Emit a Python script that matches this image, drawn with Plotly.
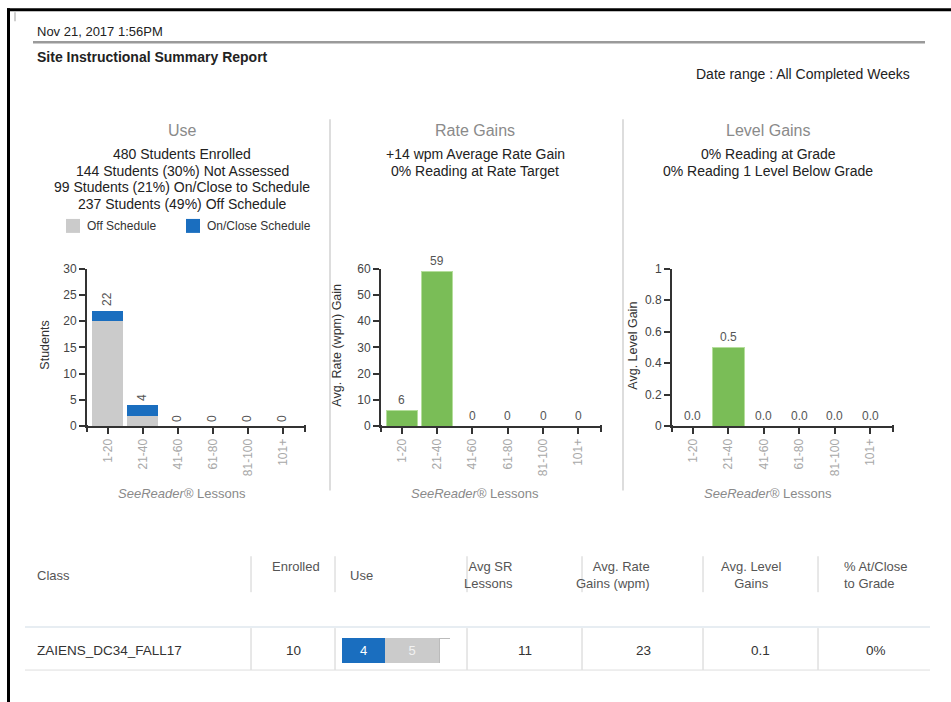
import plotly.graph_objects as go

W, H = 951, 702

# ---- data -------------------------------------------------------------
lesson_bins = ["1-20", "21-40", "41-60", "61-80", "81-100", "101+"]
off_schedule = [20, 2, 0, 0, 0, 0]
on_schedule = [2, 2, 0, 0, 0, 0]
rate_gain = [6, 59, 0, 0, 0, 0]
level_gain = [0.0, 0.5, 0.0, 0.0, 0.0, 0.0]

use_summary = [
    "480 Students Enrolled",
    "144 Students (30%) Not Assessed",
    "99 Students (21%) On/Close to Schedule",
    "237 Students (49%) Off Schedule",
]
rate_summary = ["+14 wpm Average Rate Gain", "0% Reading at Rate Target"]
level_summary = ["0% Reading at Grade", "0% Reading 1 Level Below Grade"]

table_headers = ["Class", "Enrolled", "Use", "Avg SR<br>Lessons",
                 "Avg. Rate<br>Gains (wpm)", "Avg. Level<br>Gains", "% At/Close<br>to Grade"]
class_names = ["ZAIENS_DC34_FALL17"]
class_enrolled = [10]
class_on_schedule = [4]
class_off_schedule = [5]
class_avg_sr = [11]
class_avg_rate = [23]
class_avg_level = [0.1]
class_pct_grade = ["0%"]

# ---- style ------------------------------------------------------------
FONT = "Liberation Sans, Arial, sans-serif"
GRAY_BAR = "#cbcbcb"
BLUE = "#1a6ebf"
GREEN = "#7abd57"
AXIS = "#333333"
TITLE_GRAY = "#8a8a8a"
TEXT = "#222222"


def px(x):
    return x / W


def py(y):
    # page layout is specified in pixels from the top; squeeze it slightly around the charts
    y = (y - 5.65) / 0.982
    return 1 - y / H


fig = go.Figure()

# Use chart: stacked off/on schedule
fig.add_trace(go.Bar(x=lesson_bins, y=off_schedule, name="Off Schedule",
                     marker=dict(color=GRAY_BAR, line=dict(width=0)),
                     xaxis="x", yaxis="y", showlegend=False, hoverinfo="skip"))
fig.add_trace(go.Bar(x=lesson_bins, y=on_schedule, name="On/Close Schedule",
                     marker=dict(color=BLUE, line=dict(width=0)),
                     xaxis="x", yaxis="y", showlegend=False, hoverinfo="skip"))
# Rate gains
fig.add_trace(go.Bar(x=lesson_bins, y=rate_gain, name="Rate Gain",
                     marker=dict(color=GREEN, line=dict(color="#b5de9c", width=1)),
                     xaxis="x2", yaxis="y2", showlegend=False, hoverinfo="skip"))
# Level gains
fig.add_trace(go.Bar(x=lesson_bins, y=level_gain, name="Level Gain",
                     marker=dict(color=GREEN, line=dict(color="#b5de9c", width=1)),
                     xaxis="x3", yaxis="y3", showlegend=False, hoverinfo="skip"))

# Table "Use" cell: horizontal stacked bar (on / off / not assessed)
not_assessed = [e - a - b for e, a, b in zip(class_enrolled, class_on_schedule, class_off_schedule)]
fig.add_trace(go.Bar(x=class_on_schedule, y=class_names, orientation="h", width=1,
                     marker=dict(color=BLUE, line=dict(width=0)),
                     text=[str(v) for v in class_on_schedule], textposition="inside",
                     insidetextanchor="middle", textfont=dict(color="white", size=13, family=FONT),
                     xaxis="x4", yaxis="y4", showlegend=False, hoverinfo="skip"))
fig.add_trace(go.Bar(x=class_off_schedule, y=class_names, orientation="h", width=1,
                     marker=dict(color=GRAY_BAR, line=dict(width=0)),
                     text=[str(v) for v in class_off_schedule], textposition="inside",
                     insidetextanchor="middle", textfont=dict(color="#f2f2f2", size=13, family=FONT),
                     xaxis="x4", yaxis="y4", showlegend=False, hoverinfo="skip"))
fig.add_trace(go.Bar(x=not_assessed, y=class_names, orientation="h", width=1,
                     marker=dict(color="white", line=dict(color="#bbbbbb", width=1)),
                     xaxis="x4", yaxis="y4", showlegend=False, hoverinfo="skip"))

# ---- axes -------------------------------------------------------------
cat_range = [-0.59, 5.64]
xcommon = dict(type="category", range=cat_range, showline=True, linecolor=AXIS, linewidth=2,
               ticks="outside", ticklen=6, tickwidth=2, tickcolor=AXIS, tickangle=-90,
               tickfont=dict(size=12, color="#a8a8a8", family=FONT), showgrid=False,
               zeroline=False, fixedrange=True)
ycommon = dict(showline=True, linecolor=AXIS, linewidth=2, ticks="outside", ticklen=6,
               tickwidth=2, tickcolor=AXIS, tickfont=dict(size=12, color="#444", family=FONT),
               showgrid=False, zeroline=False, fixedrange=True)

ydom = [py(425.5), py(268)]
chart_x = [(87, 305), (381, 601), (672, 893)]
fig.update_layout(
    xaxis=dict(domain=[px(chart_x[0][0]), px(chart_x[0][1])], anchor="y", **xcommon),
    yaxis=dict(domain=ydom, anchor="x", range=[0, 30], dtick=5, **ycommon),
    xaxis2=dict(domain=[px(chart_x[1][0]), px(chart_x[1][1])], anchor="y2", **xcommon),
    yaxis2=dict(domain=ydom, anchor="x2", range=[0, 60], dtick=10, **ycommon),
    xaxis3=dict(domain=[px(chart_x[2][0]), px(chart_x[2][1])], anchor="y3", **xcommon),
    yaxis3=dict(domain=ydom, anchor="x3", range=[0, 1], dtick=0.2, **ycommon),
    xaxis4=dict(domain=[px(342), px(450)], anchor="y4", range=[0, class_enrolled[0]],
                visible=False, fixedrange=True),
    yaxis4=dict(domain=[py(663), py(638)], anchor="x4", range=[-0.5, 0.5],
                visible=False, fixedrange=True),
    barmode="stack",
    bargap=0.11,
    width=W, height=H, autosize=False,
    margin=dict(l=0, r=0, t=0, b=0),
    paper_bgcolor="white", plot_bgcolor="white",
    font=dict(family=FONT, color=TEXT),
)

ann = []
shapes = []


def text(x, y, s, size=12, color=TEXT, xanchor="center", yanchor="middle", **kw):
    ann.append(dict(x=px(x), y=py(y), xref="paper", yref="paper", text=s, showarrow=False,
                    xanchor=xanchor, yanchor=yanchor,
                    font=dict(size=size, color=color, family=FONT), **kw))


def hline(x0, x1, y, color, width=1):
    shapes.append(dict(type="line", xref="paper", yref="paper", x0=px(x0), x1=px(x1),
                       y0=py(y), y1=py(y), line=dict(color=color, width=width)))


def vline(x, y0, y1, color, width=1):
    shapes.append(dict(type="line", xref="paper", yref="paper", x0=px(x), x1=px(x),
                       y0=py(y0), y1=py(y1), line=dict(color=color, width=width)))


# page frame and header
hline(7, W, 8.5, "black", 3)
vline(8.5, 7, H + 20, "black", 3)
vline(15, 11, 20, "#cfcfcf", 2)
text(35, 30, "Nov 21, 2017 1:56PM", size=13, xanchor="left")
hline(33, 925, 41, "#9a9a9a", 2.5)
text(35, 56, "<b>Site Instructional Summary Report</b>", size=14, xanchor="left")
text(912, 73, "Date range : All Completed Weeks", size=14, xanchor="right")

# panel dividers
vline(330, 118, 490, "#d2d2d2", 1.5)
vline(623, 118, 490, "#d2d2d2", 1.5)

# panel headings and summaries
panel_centers = [182, 475, 768]
panel_titles = ["Use", "Rate Gains", "Level Gains"]
for cx, title, lines in zip(panel_centers, panel_titles, [use_summary, rate_summary, level_summary]):
    text(cx, 129, title, size=16, color=TITLE_GRAY)
    for i, line in enumerate(lines):
        text(cx, 153 + i * 16.7, line, size=14)

# Use legend
legend_items = [("Off Schedule", GRAY_BAR, 66), ("On/Close Schedule", BLUE, 186)]
for label, color, lx in legend_items:
    shapes.append(dict(type="rect", xref="paper", yref="paper", x0=px(lx), x1=px(lx + 14),
                       y0=py(232), y1=py(218), fillcolor=color, line=dict(width=0)))
    text(lx + 19, 225, label, size=12, color="#333", xanchor="left")

# axis titles
y_titles = ["Students", "Avg. Rate (wpm) Gain", "Avg. Level Gain"]
y_title_x = [45, 337, 633]
for tx, t in zip(y_title_x, y_titles):
    text(tx, 345, t, size=12.5, color="#333", textangle=-90)
for cx in panel_centers:
    text(cx, 493, "<i>SeeReader®</i> Lessons", size=13, color="#8a8a8a")

# value labels above bars
use_totals = [a + b for a, b in zip(off_schedule, on_schedule)]
for b, v in zip(lesson_bins, use_totals):
    lbl = str(v)
    ann.append(dict(x=b, y=v, xref="x", yref="y", text=lbl, showarrow=False, textangle=-90,
                    xanchor="center", yanchor="middle", yshift=4 + 3.7 * len(lbl),
                    font=dict(size=12, color="#555", family=FONT)))
for b, v in zip(lesson_bins, rate_gain):
    ann.append(dict(x=b, y=v, xref="x2", yref="y2", text=f"{v:g}", showarrow=False,
                    xanchor="center", yanchor="bottom", yshift=1,
                    font=dict(size=12, color="#555", family=FONT)))
for b, v in zip(lesson_bins, level_gain):
    ann.append(dict(x=b, y=v, xref="x3", yref="y3", text=f"{v:.1f}", showarrow=False,
                    xanchor="center", yanchor="bottom", yshift=1,
                    font=dict(size=12, color="#555", family=FONT)))

# d3-style outer ticks at both ends of each x axis
for xr, yr in [("x", "y"), ("x2", "y2"), ("x3", "y3")]:
    for xd in (0, 1):
        shapes.append(dict(type="line", xref=f"{xr} domain", yref=f"{yr} domain",
                           x0=xd, x1=xd, ysizemode="pixel", yanchor=0, y0=1, y1=-6,
                           line=dict(color=AXIS, width=2)))

# ---- class table ------------------------------------------------------
HDR = "#555555"
HS = 13
text(35, 575, table_headers[0], size=HS, color=HDR, xanchor="left")
text(296, 566, table_headers[1], size=HS, color=HDR)
text(348, 575, table_headers[2], size=HS, color=HDR, xanchor="left")
text(515, 575, table_headers[3], size=HS, color=HDR, xanchor="right", align="right")
text(652, 575, table_headers[4], size=HS, color=HDR, xanchor="right", align="right")
text(751, 575, table_headers[5], size=HS, color=HDR, align="center")
text(842, 575, table_headers[6], size=HS, color=HDR, xanchor="left", align="left")

col_seps = [251, 335, 467, 582, 703, 818]
for x in col_seps:
    vline(x, 556, 592, "#d0d0d0", 1)
    vline(x, 628, 670, "#d0d0d0", 1)
hline(25, 930, 627, "#dfe7ee", 1.5)
hline(25, 930, 670, "#dedede", 1)

row_y = 650
DS = 13.5
for i, name in enumerate(class_names):
    text(35, row_y, name, size=DS, color="#333", xanchor="left")
    text(293, row_y, str(class_enrolled[i]), size=DS, color="#333")
    text(525, row_y, str(class_avg_sr[i]), size=DS, color="#333")
    text(643, row_y, str(class_avg_rate[i]), size=DS, color="#333")
    text(760, row_y, f"{class_avg_level[i]:.1f}", size=DS, color="#333")
    text(876, row_y, class_pct_grade[i], size=DS, color="#333")

fig.update_layout(annotations=ann, shapes=shapes)
fig.write_html("out.html")
